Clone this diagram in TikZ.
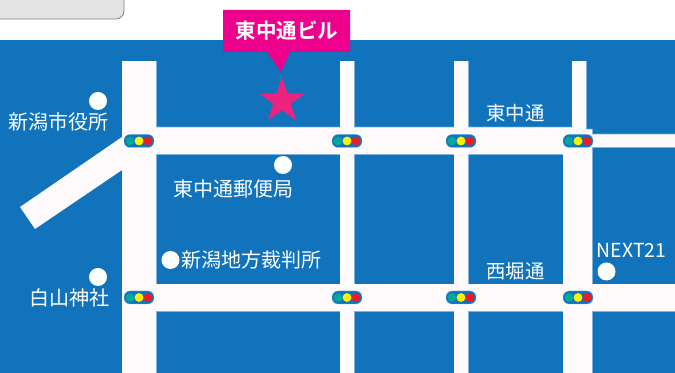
\documentclass[tikz,border=0pt]{standalone}
\usepackage{fontspec}
\setmainfont{Noto Sans CJK JP}
\newfontfamily\cjkbold[BoldFont={Noto Sans CJK JP Bold}]{Noto Sans CJK JP}
\usetikzlibrary{shapes.geometric}
\definecolor{mapblue}{HTML}{1073BB}
\definecolor{roadwhite}{HTML}{FFFBFD}
\definecolor{roadedge}{HTML}{7FB2DC}
\definecolor{labelpink}{HTML}{EC008C}
\definecolor{starpink}{HTML}{EE2280}
\definecolor{sigteal}{HTML}{00A99D}
\definecolor{sigyellow}{HTML}{FFF200}
\definecolor{sigred}{HTML}{ED1C24}
\tikzset{
  x=0.75pt,y=-0.75pt,
  road/.style={fill=roadwhite,draw=roadedge,line width=0.35pt},
  roadfill/.style={fill=roadwhite},
  place/.style={circle,fill=white,minimum size=13.5pt,inner sep=0pt,draw=none},
  maptext/.style={text=white,inner sep=0pt,font=\fontsize{15}{15}\selectfont},
  streettext/.style={text=white,inner sep=0pt,font=\fontsize{14.5}{15}\selectfont},
  lamp/.style={circle,minimum size=6.6pt,inner sep=0pt,draw=none},
  capsule/.style={rounded corners=4.5pt,fill=mapblue,draw=roadedge,line width=0.2pt},
}
\newcommand{\signal}[3]{%
  \draw[capsule] (#2-15,#3-6.5) rectangle (#2+15,#3+6.5);
  \node[lamp,fill=sigteal] (#1t) at (#2-9,#3) {};
  \node[lamp,fill=sigyellow] (#1y) at (#2,#3) {};
  \node[lamp,fill=sigred] (#1r) at (#2+9,#3) {};
}
\begin{document}
\begin{tikzpicture}
\useasboundingbox (0,0) rectangle (675,373);
\fill[white] (0,0) rectangle (675,373);
% grey tab at top left
\draw[fill=black!11,draw=black!50,line width=0.6pt,rounded corners=6pt] (-10,-12) rectangle (124,19);
% blue ground
\fill[mapblue] (0,40) rectangle (675,373);
% roads: outlines
\draw[road] (122,61) rectangle (156,380);
\draw[road] (340,61) rectangle (354,380);
\draw[road] (454,61) rectangle (468,380);
\draw[road] (572,61) rectangle (586,140);
\draw[road] (563,140) rectangle (592,380);
\draw[road] (130,127) -- (586,127) -- (586,129) -- (592,129) -- (592,134) -- (680,134) -- (680,147) -- (592,147) -- (592,154) -- (130,154) -- cycle;
\draw[road] (130,284) rectangle (680,311);
\draw[road,draw=none] (122,137) -- (20,207) -- (35,229) -- (122,170) -- cycle;
% roads: joined interiors
\fill[roadfill] (122.3,61.3) rectangle (155.7,380);
\fill[roadfill] (340.3,61.3) rectangle (353.7,380);
\fill[roadfill] (454.3,61.3) rectangle (467.7,380);
\fill[roadfill] (572.3,61.3) rectangle (585.7,140);
\fill[roadfill] (563.3,140) rectangle (591.7,380);
\fill[roadfill] (130,127.3) -- (585.7,127.3) -- (585.7,129.3) -- (591.7,129.3) -- (591.7,134.3) -- (680,134.3) -- (680,146.7) -- (591.7,146.7) -- (591.7,153.7) -- (130,153.7) -- cycle;
\fill[roadfill] (130,284.3) rectangle (680,310.7);
% pink callout
\fill[labelpink] (223,10) -- (350,10) -- (350,52) -- (290,52) -- (281,72) -- (267,52) -- (223,52) -- cycle;
\node[text=white,inner sep=0pt,font=\cjkbold\bfseries\fontsize{15.4}{16}\selectfont] (callout) at (287,31) {東中通ビル};
% star
\node[star,star points=5,star point ratio=2.618,fill=starpink,minimum size=36pt,inner sep=0pt,draw=none] (building) at (282,101) {};
% signals
\signal{a}{139}{141}
\signal{b}{347}{141}
\signal{c}{461}{141}
\signal{d}{578}{141}
\signal{e}{139}{297.5}
\signal{f}{347}{297.5}
\signal{g}{461}{297.5}
\signal{h}{578}{297.5}
% places
\node[place] (cityhall) at (98,101) {};
\node[place] (postoffice) at (283,165) {};
\node[place] (court) at (170.5,260) {};
\node[place] (shrine) at (98,277) {};
\node[place] (next) at (606.5,271.5) {};
% labels
\node[maptext] (cityhalllabel) at (58,122) {新潟市役所};
\node[maptext] (postlabel) at (233.5,189) {東中通郵便局};
\node[maptext] (courtlabel) at (251,260) {新潟地方裁判所};
\node[maptext] (shrinelabel) at (69,298) {白山神社};
\node[streettext] (street1) at (515.5,113) {東中通};
\node[streettext] (street2) at (515.5,271) {西堀通};
\node[text=white,inner sep=0pt,font=\fontsize{14.5}{15}\selectfont] (nextlabel) at (631.5,250.5) {NEXT21};
\end{tikzpicture}
\end{document}
